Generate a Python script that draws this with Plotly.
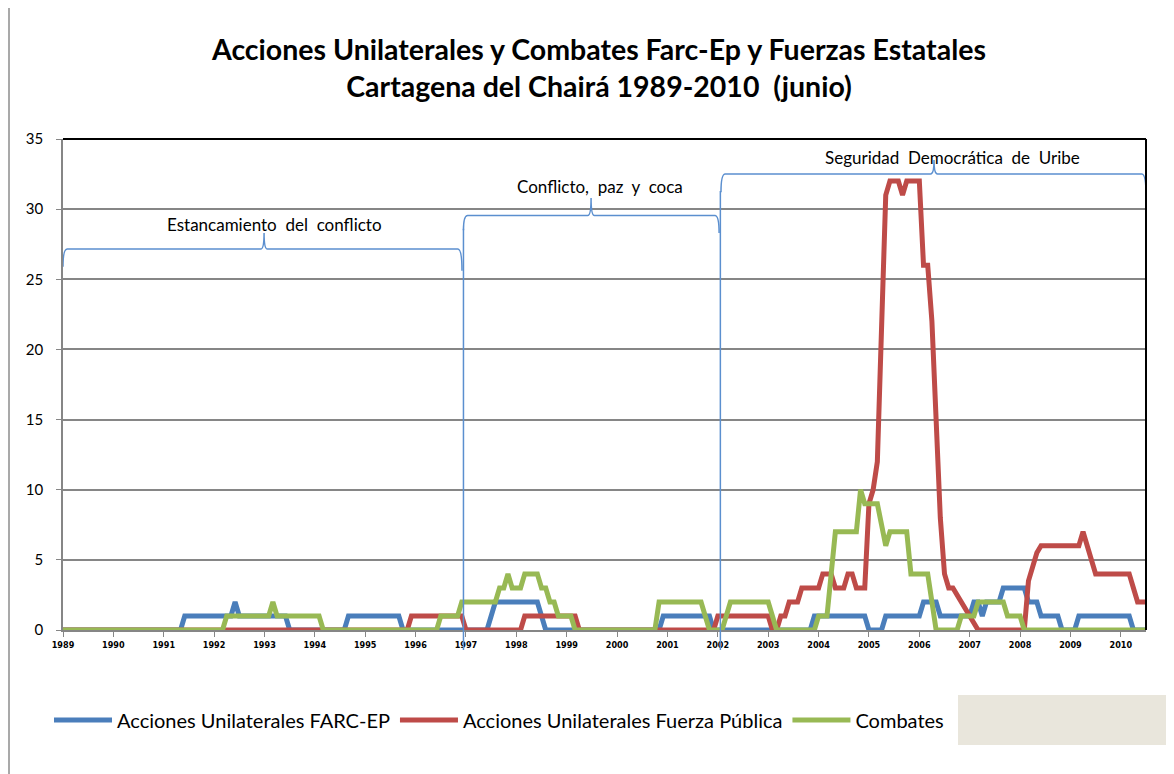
import plotly.graph_objects as go

# ---------------- data (monthly, Jan 1989 .. Jul 2010) ----------------
years = list(range(1989, 2011))

farc_ep = [
    0,0,0,0,0,0,0,0,0,0,0,0,      # 1989
    0,0,0,0,0,0,0,0,0,0,0,0,      # 1990
    0,0,0,0,0,1,1,1,1,1,1,1,      # 1991
    1,1,1,1,1,2,1,1,1,1,1,1,      # 1992
    1,1,1,1,1,1,0,0,0,0,0,0,      # 1993
    0,0,0,0,0,0,0,0,1,1,1,1,      # 1994
    1,1,1,1,1,1,1,1,1,0,0,0,      # 1995
    0,0,0,0,0,0,0,0,0,0,0,0,      # 1996
    0,0,0,0,0,0,1,2,2,2,2,2,      # 1997
    2,2,2,2,2,2,1,0,0,0,0,0,      # 1998
    0,0,0,0,0,0,0,0,0,0,0,0,      # 1999
    0,0,0,0,0,0,0,0,0,0,0,1,      # 2000
    1,1,1,1,1,1,1,1,1,1,1,0,      # 2001
    0,0,0,0,0,0,0,0,0,0,0,0,      # 2002
    0,0,0,0,0,0,0,0,0,0,0,1,      # 2003
    1,1,1,1,1,1,1,1,1,1,1,1,      # 2004
    0,0,0,0,1,1,1,1,1,1,1,1,      # 2005
    1,2,2,2,2,1,1,1,1,1,1,1,      # 2006
    1,2,2,1,2,2,2,2,3,3,3,3,      # 2007
    3,3,2,2,2,1,1,1,1,1,0,0,      # 2008
    0,0,1,1,1,1,1,1,1,1,1,1,      # 2009
    1,1,1,0,0,0,0,                # 2010
]

fuerza_publica = [
    0,0,0,0,0,0,0,0,0,0,0,0,      # 1989
    0,0,0,0,0,0,0,0,0,0,0,0,      # 1990
    0,0,0,0,0,0,0,0,0,0,0,0,      # 1991
    0,0,0,0,0,0,0,0,0,0,0,0,      # 1992
    0,0,0,0,0,0,0,0,0,0,0,0,      # 1993
    0,0,0,0,0,0,0,0,0,0,0,0,      # 1994
    0,0,0,0,0,0,0,0,0,0,0,1,      # 1995
    1,1,1,1,1,1,1,1,1,1,1,1,      # 1996
    0,0,0,0,0,0,0,0,0,0,0,0,      # 1997
    0,0,1,1,1,1,1,1,1,1,1,1,      # 1998
    1,1,1,0,0,0,0,0,0,0,0,0,      # 1999
    0,0,0,0,0,0,0,0,0,0,0,0,      # 2000
    0,0,0,0,0,0,0,0,0,0,0,0,      # 2001
    1,1,1,1,1,1,1,1,1,1,1,1,      # 2002
    1,0,0,1,1,2,2,2,3,3,3,3,      # 2003
    3,4,4,4,3,3,3,4,4,3,3,3,      # 2004
    9,10,12,21,31,32,32,32,31,32,32,32,   # 2005
    32,26,26,22,15,8,4,3,3,2.5,2,1.5,     # 2006
    1,0.5,0,0,0,0,0,0,0,0,0,0,    # 2007
    0,0,3.5,4.5,5.5,6,6,6,6,6,6,6,  # 2008
    6,6,6,7,6,5,4,4,4,4,4,4,      # 2009
    4,4,4,3,2,2,2,                # 2010
]

combates = [
    0,0,0,0,0,0,0,0,0,0,0,0,      # 1989
    0,0,0,0,0,0,0,0,0,0,0,0,      # 1990
    0,0,0,0,0,0,0,0,0,0,0,0,      # 1991
    0,0,0,1,1,1,1,1,1,1,1,1,      # 1992
    1,1,2,1,1,1,1,1,1,1,1,1,      # 1993
    1,1,0,0,0,0,0,0,0,0,0,0,      # 1994
    0,0,0,0,0,0,0,0,0,0,0,0,      # 1995
    0,0,0,0,0,0,1,1,1,1,1,2,      # 1996
    2,2,2,2,2,2,2,2,3,3,4,3,      # 1997
    3,3,4,4,4,4,3,3,2,2,1,1,      # 1998
    1,1,0,0,0,0,0,0,0,0,0,0,      # 1999
    0,0,0,0,0,0,0,0,0,0,2,2,      # 2000
    2,2,2,2,2,2,2,2,2,1,0,0,      # 2001
    0,0,1,2,2,2,2,2,2,2,2,2,      # 2002
    2,1,0,0,0,0,0,0,0,0,0,0,      # 2003
    1,1,1,4,7,7,7,7,7,7,10,9,     # 2004
    9,9,9,7.5,6,7,7,7,7,7,4,4,    # 2005
    4,4,4,2,0,0,0,0,0,0,1,1,      # 2006
    1,1,2,2,2,2,2,2,2,1,1,1,      # 2007
    1,0,0,0,0,0,0,0,0,0,0,0,      # 2008
    0,0,0,0,0,0,0,0,0,0,0,0,      # 2009
    0,0,0,0,0,0,0,                # 2010
]

series_names = ["Acciones Unilaterales FARC-EP",
                "Acciones Unilaterales Fuerza Pública",
                "Combates"]
series_colors = ["#4A7EBB", "#BE4B48", "#98B954"]

period_labels = ["Estancamiento\u00a0 del\u00a0 conflicto",
                 "Conflicto,\u00a0 paz\u00a0 y\u00a0 coca",
                 "Seguridad\u00a0 Democrática\u00a0 de\u00a0 Uribe"]

# ---------------- figure ----------------
months = list(range(len(farc_ep)))
fig = go.Figure()
for name, vals, col in zip(series_names, [farc_ep, fuerza_publica, combates], series_colors):
    fig.add_trace(go.Scatter(x=months, y=vals, mode="lines", name=name,
                             line=dict(color=col, width=5)))

# page has an 8px body margin: figure origin sits at (8, 8) in the window
OFF = 8
W, H = 1174 - OFF, 774 - OFF
PLOT_L, PLOT_R, PLOT_T, PLOT_B = 63, 1146, 139, 630   # window pixel coords
def px_x(p):  # window pixel -> paper x
    return (p - PLOT_L) / (PLOT_R - PLOT_L)
def px_y(p):  # window pixel -> paper y
    return (PLOT_B - p) / (PLOT_B - PLOT_T)

xmax = len(farc_ep) - 1
brace_col = "#5B8FCF"

def brace(x0, x1, xm, yh, yt, yl, yr):
    return (f"M {x0},{yl} Q {x0},{yh} {x0+1.0},{yh} L {xm-0.8},{yh} "
            f"Q {xm},{yh} {xm},{yt} Q {xm},{yh} {xm+0.8},{yh} "
            f"L {x1-1.0},{yh} Q {x1},{yh} {x1},{yr}")

shapes = []
braces = [
    (0.0, 95.05, 47.9, 27.15, 28.3, 25.9, 25.6),
    (95.4, 156.3, 125.8, 29.55, 30.8, 28.5, 28.3),
    (156.75, xmax, 207.5, 32.5, 33.5, 31.2, 31.0),
]
for b in braces:
    shapes.append(dict(type="path", xref="x", yref="y", path=brace(*b),
                       line=dict(color=brace_col, width=1.5)))
# long vertical bracket arms reaching below the axis
for xv, ytop in [(95.4, 28.6), (156.6, 31.3)]:
    shapes.append(dict(type="line", xref="x", yref="paper", x0=xv, x1=xv,
                       y0=px_y(650), y1=ytop / 35,
                       line=dict(color=brace_col, width=1.5)))
# black top & right border of plot area
shapes.append(dict(type="line", xref="paper", yref="paper", x0=0, x1=1, y0=1, y1=1,
                   line=dict(color="black", width=2)))
shapes.append(dict(type="line", xref="paper", yref="paper", x0=1, x1=1, y0=0, y1=1,
                   line=dict(color="black", width=2)))
# outer chart frame (left edge)
shapes.append(dict(type="line", xref="paper", yref="paper", x0=px_x(9), x1=px_x(9),
                   y0=px_y(780), y1=px_y(0), line=dict(color="#8c8c8c", width=1.5)))
# beige box at legend right
shapes.append(dict(type="rect", xref="paper", yref="paper", x0=px_x(958), x1=px_x(1171),
                   y0=px_y(745), y1=px_y(695), fillcolor="#E9E6DC", line=dict(width=0),
                   layer="above"))

annotations = []
label_pos = [(50.3, 28.9), (127.9, 31.6), (211.8, 33.7)]
for txt, (xa, ya) in zip(period_labels, label_pos):
    annotations.append(dict(x=xa, y=ya, xref="x", yref="y", text=txt, showarrow=False,
                            font=dict(family="Lato", size=17, color="black"),
                            xanchor="center", yanchor="middle"))

fig.update_layout(
    width=W, height=H,
    margin=dict(l=PLOT_L - OFF, r=(W + OFF) - PLOT_R, t=PLOT_T - OFF,
                b=(H + OFF) - PLOT_B, autoexpand=False),
    paper_bgcolor="white", plot_bgcolor="white",
    title=dict(text="<b>Acciones Unilaterales y Combates Farc-Ep y Fuerzas Estatales</b><br>"
                    "<b>Cartagena del Chairá 1989-2010\u00a0 (junio)</b>",
               x=(599 - OFF) / W, xanchor="center", y=1 - 51.5 / H, yanchor="middle",
               xref="container", yref="container",
               font=dict(family="Lato", size=28.5, color="black")),
    xaxis=dict(range=[0, xmax], tickmode="array",
               tickvals=[12 * k for k in range(len(years))],
               ticktext=[str(y) for y in years],
               showgrid=False, zeroline=False, showline=True, linecolor="#868686",
               linewidth=1.5, ticks="outside", ticklen=5, tickcolor="#868686",
               tickfont=dict(family="DejaVu Sans Condensed", size=9, color="black",
                             weight="bold")),
    yaxis=dict(range=[0, 35], dtick=5, showgrid=True, gridcolor="#868686", gridwidth=1.5,
               zeroline=False, showline=True, linecolor="#868686", linewidth=1.5,
               ticks="outside", ticklen=5, tickcolor="#868686", ticklabelstandoff=10,
               tickfont=dict(family="Lato", size=15, color="black")),
    legend=dict(orientation="h", x=px_x(49), xanchor="left", y=px_y(720), yanchor="middle",
                font=dict(family="Lato", size=20, color="black"),
                bgcolor="rgba(0,0,0,0)", itemwidth=58),
    shapes=shapes, annotations=annotations,
)

fig.write_html("out.html")
